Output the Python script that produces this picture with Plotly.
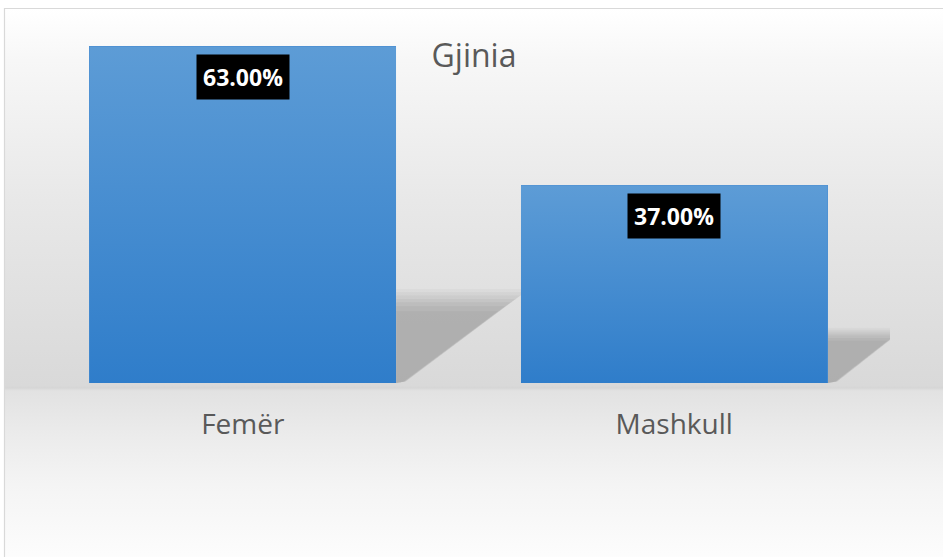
import base64
import plotly.graph_objects as go

# ---- data ----
categories = ["Femër", "Mashkull"]
values = [63.0, 37.0]
title_text = "Gjinia"

W, H = 943, 557
BAR_W = 0.711
FONT = "Open Sans"
TXT = "#595959"


def svg_uri(svg):
    return "data:image/svg+xml;base64," + base64.b64encode(svg.encode()).decode()


# background gradient (chart area), from y=9 to y=557 px
bg_stops = [(0, "#ffffff"), (51, "#f7f7f7"), (190, "#e8e8e8"), (373, "#d9d9d9"),
            (375, "#d6d6d6"), (378, "#e2e2e2"), (420, "#ebebeb"), (470, "#f4f4f4"), (548, "#fdfdfd")]
bg_h = 548
bg_svg = ('<svg xmlns="http://www.w3.org/2000/svg" width="100" height="%d" preserveAspectRatio="none">'
          '<defs><linearGradient id="g" x1="0" y1="0" x2="0" y2="1">' % bg_h
          + "".join('<stop offset="%.4f" stop-color="%s"/>' % (o / bg_h, c) for o, c in bg_stops)
          + '</linearGradient></defs><rect width="100" height="%d" fill="url(#g)"/></svg>' % bg_h)

bar_svg = ('<svg xmlns="http://www.w3.org/2000/svg" width="100" height="100" preserveAspectRatio="none">'
           '<defs><linearGradient id="b" x1="0" y1="0" x2="0" y2="1">'
           '<stop offset="0" stop-color="#5d9cd6"/><stop offset="1" stop-color="#2f7dca"/>'
           '</linearGradient></defs><rect width="100" height="100" fill="url(#b)"/></svg>')

xs = list(range(len(categories)))

fig = go.Figure()
fig.add_trace(go.Bar(
    x=xs, y=values, width=BAR_W,
    marker=dict(color="#4a8ed2", line=dict(width=0)),
    hoverinfo="skip", showlegend=False,
))

images = [dict(source=svg_uri(bg_svg), xref="paper", yref="paper",
               x=5 / W, y=1 - 9 / H, sizex=1 - 5 / W, sizey=1 - 9 / H + 0.01,
               xanchor="left", yanchor="top", sizing="stretch", layer="below")]
for i, v in zip(xs, values):
    images.append(dict(source=svg_uri(bar_svg), xref="x", yref="y",
                       x=i - BAR_W / 2, y=v, sizex=BAR_W, sizey=v,
                       xanchor="left", yanchor="top", sizing="stretch", layer="above"))

# perspective shadows (derived from bar values), layered to imitate blur
shapes = [dict(type="rect", xref="paper", yref="paper", x0=4.5 / W, x1=1.01,
               y0=-0.01, y1=1 - 8.5 / H, line=dict(color="#d9d9d9", width=1.2),
               fillcolor="rgba(0,0,0,0)", layer="below")]
layers = [(1.14, 0.06), (1.10, 0.07), (1.06, 0.08), (1.02, 0.09), (0.98, 0.1), (0.93, 0.1), (0.87, 0.1)]
for i, v in zip(xs, values):
    xr = i + BAR_W / 2
    for grow, op in layers:
        dy = 0.245 * v * grow
        dx = 0.0043 * v * grow
        path = "M %f,0 L %f,%f L %f,%f L %f,%f Z" % (
            xr, xr, dy, xr + dx, dy, xr + 0.02 * grow, 0.3)
        shapes.append(dict(type="path", xref="x", yref="y", path=path,
                           fillcolor="#808080", opacity=op, line=dict(width=0), layer="below"))

annotations = []
for i, v in zip(xs, values):
    annotations.append(dict(x=i, y=v, xref="x", yref="y", text="<b>%.2f%%</b>" % v,
                            showarrow=False, yanchor="top", yshift=-8,
                            bgcolor="#000000", borderpad=6,
                            font=dict(family=FONT, size=23, color="#ffffff")))

fig.update_layout(
    width=W, height=H,
    margin=dict(l=0, r=0, t=0, b=0),
    paper_bgcolor="#ffffff",
    plot_bgcolor="rgba(0,0,0,0)",
    title=dict(text=title_text, x=474 / W, xanchor="center", y=1 - 56 / H, yanchor="middle",
               yref="container", font=dict(family=FONT, size=32, color=TXT)),
    xaxis=dict(domain=[27 / W, 890 / W], range=[-0.5, 1.5], tickvals=xs, ticktext=categories,
               showgrid=False, zeroline=False, showline=False, ticks="",
               tickfont=dict(family=FONT, size=28, color=TXT), ticklabelstandoff=22,
               automargin=False, fixedrange=True),
    yaxis=dict(domain=[1 - 383 / H, 1 - 9 / H], range=[0, 70], visible=False,
               showgrid=False, zeroline=False, automargin=False, fixedrange=True),
    images=images,
    shapes=shapes,
    annotations=annotations,
    bargap=0,
    showlegend=False,
)

fig.write_html("out.html", config={"displayModeBar": False},
               post_script="document.body.style.margin='0';")
